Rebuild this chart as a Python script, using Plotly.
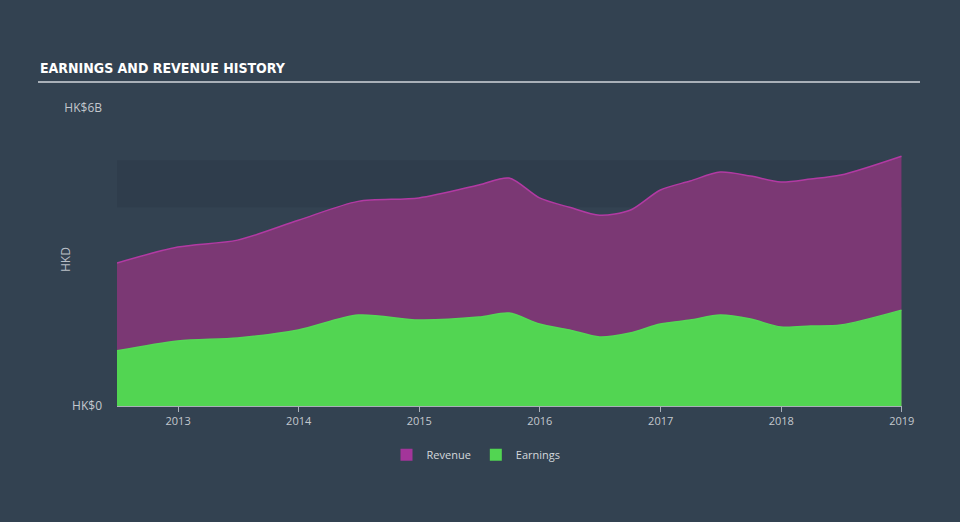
import plotly.graph_objects as go

dates = ["2012-06-30", "2012-12-31", "2013-06-30", "2013-12-31", "2014-06-30",
         "2014-12-31", "2015-06-30", "2015-09-30", "2015-12-31", "2016-03-31",
         "2016-06-30", "2016-09-30", "2016-12-31", "2017-03-31", "2017-06-30",
         "2017-09-30", "2017-12-31", "2018-03-31", "2018-06-30", "2018-12-31"]
revenue = [2.88, 3.20, 3.34, 3.74, 4.12, 4.19, 4.45, 4.59, 4.19, 4.00,
           3.84, 3.94, 4.35, 4.53, 4.71, 4.63, 4.51, 4.57, 4.65, 5.03]
earnings = [1.11, 1.31, 1.37, 1.53, 1.83, 1.73, 1.79, 1.87, 1.65, 1.53,
            1.39, 1.47, 1.65, 1.73, 1.83, 1.75, 1.59, 1.61, 1.63, 1.93]
year_ticks = ["2013-01-01", "2014-01-01", "2015-01-01", "2016-01-01",
              "2017-01-01", "2018-01-01", "2019-01-01"]
year_labels = ["2013", "2014", "2015", "2016", "2017", "2018", "2019"]
y_ticks = [0, 6]
y_labels = ["HK$0", "HK$6B"]
band = [4.0, 4.95]

REV_FILL = "#7b3874"
EARN_FILL = "#52d552"

fig = go.Figure()
fig.add_trace(go.Scatter(x=dates, y=revenue, name="Revenue", mode="lines", showlegend=False,
                         line=dict(color="#b23aa3", width=1.5, shape="spline", smoothing=0.8),
                         fill="tozeroy", fillcolor=REV_FILL))
fig.add_trace(go.Scatter(x=dates, y=earnings, name="Earnings", mode="lines", showlegend=False,
                         line=dict(color="#55d856", width=1.5, shape="spline", smoothing=0.8),
                         fill="tozeroy", fillcolor=EARN_FILL))
# legend-only swatches (square markers)
fig.add_trace(go.Bar(x=[None], y=[None], name="Revenue", marker=dict(color="#a3359a", line=dict(width=0))))
fig.add_trace(go.Bar(x=[None], y=[None], name="Earnings", marker=dict(color="#52d552", line=dict(width=0))))

fig.add_shape(type="rect", xref="paper", x0=0, x1=1, yref="y", y0=band[0], y1=band[1],
              fillcolor="#27333f", opacity=0.28, line=dict(width=0), layer="below")

fig.add_shape(type="line", xref="paper", yref="paper", x0=-79/785, x1=(920-117)/785,
              y0=(406-82)/298, y1=(406-82)/298, line=dict(color="#a9b0b8", width=2))

fig.add_annotation(text="<b>EARNINGS AND REVENUE HISTORY</b>", xref="paper", yref="paper",
                   x=-79/785, y=(406-68)/298, xanchor="left", yanchor="middle", showarrow=False,
                   font=dict(family="DejaVu Sans Condensed", size=14, color="#ffffff"))
fig.add_annotation(text="HKD", xref="paper", yref="paper", x=-52/785, y=(406-260)/298,
                   textangle=-90, showarrow=False, xanchor="center", yanchor="middle",
                   font=dict(family="Open Sans", size=12, color="#b9bfc6"))

fig.update_layout(
    width=960, height=522,
    margin=dict(l=117, r=58, t=108, b=116),
    paper_bgcolor="#334251", plot_bgcolor="rgba(0,0,0,0)",
    showlegend=True,
    legend=dict(orientation="h", x=(476-117)/785, xanchor="center", y=-0.115, yanchor="top",
                font=dict(family="Open Sans", size=11, color="#d4d8dc"),
                itemwidth=30, traceorder="normal"),
    xaxis=dict(type="date", range=["2012-06-30", "2019-01-01 12:00"],
               tickvals=year_ticks, ticktext=year_labels, showgrid=False, zeroline=False,
               showline=True, linecolor="#a9b0b8", linewidth=1,
               ticks="outside", ticklen=5, tickcolor="#a9b0b8",
               tickfont=dict(family="Open Sans", size=11, color="#c3c8ce")),
    yaxis=dict(range=[0, 6], tickvals=y_ticks, ticktext=y_labels, showgrid=False,
               zeroline=False, showline=False, ticks="", ticklabelstandoff=14,
               tickfont=dict(family="Open Sans", size=12, color="#c3c8ce")),
)

fig.write_html("out.html")
